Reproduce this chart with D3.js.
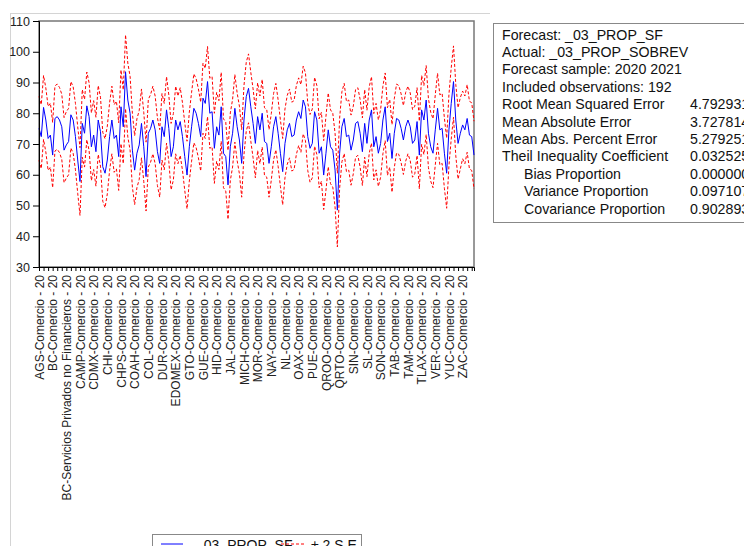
<!DOCTYPE html>
<html>
<head>
<meta charset="utf-8">
<title>Forecast _03_PROP_SF</title>
<script src="https://d3js.org/d3.v7.min.js"></script>
<style>
  body { margin: 0; background: #fff; }
  svg { display: block; font-family: "Liberation Sans", Arial, sans-serif; }
</style>
</head>
<body>
<svg width="744" height="546"></svg>
<script>
// categories (one label per 6 observations)
const categories = [
  "AGS-Comercio - 20", "BC-Comercio - 20", "BC-Servicios Privados no Financieros - 20",
  "CAMP-Comercio - 20", "CDMX-Comercio - 20", "CHI-Comercio - 20", "CHPS-Comercio - 20",
  "COAH-Comercio - 20", "COL-Comercio - 20", "DUR-Comercio - 20", "EDOMEX-Comercio - 20",
  "GTO-Comercio - 20", "GUE-Comercio - 20", "HID-Comercio - 20", "JAL-Comercio - 20",
  "MICH-Comercio - 20", "MOR-Comercio - 20", "NAY-Comercio - 20", "NL-Comercio - 20",
  "OAX-Comercio - 20", "PUE-Comercio - 20", "QROO-Comercio - 20", "QRTO-Comercio - 20",
  "SIN-Comercio - 20", "SL-Comercio - 20", "SON-Comercio - 20", "TAB-Comercio - 20",
  "TAM-Comercio - 20", "TLAX-Comercio - 20", "VER-Comercio - 20", "YUC-Comercio - 20",
  "ZAC-Comercio - 20"
];

// forecast _03_PROP_SF, 192 observations
const forecast = [
  75.1, 72.4, 81.9, 77.8, 71.8, 72.9, 66.4, 78.3, 78.9, 77.8, 75.6, 68.0,
  69.7, 70.8, 79.5, 77.8, 72.4, 64.8, 57.8, 76.7, 73.5, 82.4, 78.9, 69.1,
  72.9, 67.5, 77.8, 74.0, 62.6, 60.5, 64.8, 72.4, 77.8, 71.8, 72.9, 65.9,
  82.1, 75.6, 93.5, 84.3, 80.0, 68.0, 61.5, 67.0, 69.7, 76.7, 69.1, 59.4,
  73.5, 75.1, 77.8, 74.6, 67.5, 63.7, 75.6, 72.4, 81.1, 75.1, 65.9, 69.1,
  77.8, 74.6, 77.3, 72.4, 65.9, 59.9, 69.1, 75.6, 81.6, 80.0, 76.7, 72.4,
  84.9, 83.2, 90.3, 80.0, 80.5, 68.6, 75.6, 72.9, 82.1, 67.0, 65.9, 56.7,
  69.1, 73.5, 81.6, 75.6, 71.3, 63.7, 77.8, 85.4, 88.1, 82.1, 76.7, 70.2,
  78.9, 74.6, 80.0, 70.8, 70.2, 63.7, 69.1, 75.6, 78.9, 73.5, 67.0, 61.0,
  70.2, 74.6, 76.7, 72.4, 72.9, 77.8, 80.5, 78.3, 84.3, 82.1, 72.4, 68.6,
  70.2, 80.5, 77.8, 67.0, 69.1, 59.9, 67.0, 74.6, 69.1, 68.0, 61.5, 48.5,
  67.0, 75.6, 78.3, 72.4, 72.9, 68.0, 71.3, 76.7, 77.3, 73.5, 67.5, 76.7,
  70.2, 77.8, 81.1, 69.1, 72.4, 67.0, 70.2, 77.8, 82.1, 70.8, 73.5, 65.3,
  73.5, 78.3, 77.8, 75.1, 71.3, 75.6, 77.8, 75.6, 70.2, 71.3, 77.3, 66.4,
  81.1, 77.8, 84.3, 73.5, 69.1, 67.0, 74.6, 81.6, 74.6, 75.1, 67.0, 60.5,
  74.6, 83.2, 90.3, 77.8, 70.2, 73.5, 76.2, 74.6, 78.3, 72.9, 72.4, 66.4
];

// forecast standard error, one value per category
const seByCategory = [
  5.2, 5.3, 5.4, 5.5, 5.6, 5.5, 6.0, 5.6, 5.5, 5.4, 5.5, 5.6, 5.7, 5.6, 5.5, 5.6,
  5.5, 5.4, 5.6, 5.5, 5.6, 6.0, 5.7, 5.5, 5.4, 5.5, 5.6, 5.5, 5.6, 5.7, 5.8, 5.5
];

const yTicks = [30, 40, 50, 60, 70, 80, 90, 100, 110];

const statLabels = [
  "Forecast: _03_PROP_SF", "Actual: _03_PROP_SOBREV", "Forecast sample: 2020 2021",
  "Included observations: 192", "Root Mean Squared Error", "Mean Absolute Error",
  "Mean Abs. Percent Error", "Theil Inequality Coefficient", "Bias Proportion",
  "Variance Proportion", "Covariance Proportion"
];
const statValues = ["", "", "", "", "4.792931", "3.727814", "5.279251", "0.032525",
  "0.000000", "0.097107", "0.902893"];

const svg = d3.select("svg");
const margin = {top: 21, right: 270, bottom: 279, left: 39};
const width = 744, height = 546;

const per = 6;
const pts = forecast.map((v, i) => {
  const se = seByCategory[Math.floor(i / per)];
  return {i: i, f: v, hi: v + 2 * se, lo: v - 2 * se};
});

const x = d3.scaleLinear()
  .domain([0, forecast.length - 1])
  .range([margin.left, width - margin.right]);
const y = d3.scaleLinear()
  .domain([30, 110])
  .range([height - margin.bottom, margin.top]);

// outer frame (light gray)
svg.append("line").attr("x1", 10).attr("x2", 490).attr("y1", 13.5).attr("y2", 13.5)
  .attr("stroke", "#d4d4d4");
svg.append("line").attr("x1", 10.5).attr("x2", 10.5).attr("y1", 13).attr("y2", height)
  .attr("stroke", "#d4d4d4");

// plot border
svg.append("rect")
  .attr("x", x.range()[0]).attr("y", y.range()[1])
  .attr("width", x.range()[1] - x.range()[0])
  .attr("height", y.range()[0] - y.range()[1])
  .attr("fill", "none").attr("stroke", "#777").attr("stroke-width", 1.5);

// lines
const line = key => d3.line().x(d => x(d.i)).y(d => y(d[key]));
svg.append("path").datum(pts).attr("d", line("hi"))
  .attr("fill", "none").attr("stroke", "#ff0000").attr("stroke-width", 1)
  .attr("stroke-dasharray", "3,2");
svg.append("path").datum(pts).attr("d", line("lo"))
  .attr("fill", "none").attr("stroke", "#ff0000").attr("stroke-width", 1)
  .attr("stroke-dasharray", "3,2");
svg.append("path").datum(pts).attr("d", line("f"))
  .attr("fill", "none").attr("stroke", "#0000ff").attr("stroke-width", 1);

// y axis
const yAxis = svg.append("g")
  .attr("transform", `translate(${margin.left},0)`)
  .call(d3.axisLeft(y).tickValues(yTicks).tickSize(6).tickPadding(3));
yAxis.selectAll("text").attr("font-size", 12.5).attr("fill", "#222")
  .attr("font-family", "Liberation Sans, Arial, sans-serif");
yAxis.select(".domain").attr("stroke", "#000");

// x axis minor ticks every 2 obs
const xAxis = svg.append("g")
  .attr("transform", `translate(0,${height - margin.bottom})`)
  .call(d3.axisBottom(x).tickValues(d3.range(0, forecast.length, 2)).tickSize(4).tickFormat(""));
xAxis.select(".domain").attr("stroke", "#000");

// category labels
const xLab = svg.append("g")
  .attr("transform", `translate(0,${height - margin.bottom})`)
  .call(d3.axisBottom(x)
    .tickValues(categories.map((c, k) => k * per))
    .tickSize(0)
    .tickFormat((d) => categories[d / per]));
xLab.select(".domain").remove();
xLab.selectAll("text")
  .attr("font-size", 12).attr("fill", "#222")
  .attr("font-family", "Liberation Sans, Arial, sans-serif")
  .attr("text-anchor", "end")
  .attr("transform", "rotate(-90)")
  .attr("x", -8).attr("y", 0).attr("dy", "0.35em");

// stats box
const sb = svg.append("g").attr("transform", "translate(493,23)");
sb.append("rect").attr("x", 0.5).attr("y", 0.5).attr("width", 300).attr("height", 199)
  .attr("fill", "#fff").attr("stroke", "#888");
statLabels.forEach((t, k) => {
  const indent = k >= 8 ? 31 : 9;
  sb.append("text").attr("x", indent).attr("y", 16.5 + k * 17.4)
    .attr("font-size", 14.2).attr("fill", "#111").text(t);
  if (statValues[k]) {
    sb.append("text").attr("x", 197).attr("y", 16.5 + k * 17.4)
      .attr("font-size", 14.2).attr("fill", "#111").text(statValues[k]);
  }
});

// legend (cut by the bottom edge, as in the source)
const lg = svg.append("g").attr("transform", "translate(152,534)");
lg.append("rect").attr("x", 0.5).attr("y", 0.5).attr("width", 209).attr("height", 30)
  .attr("fill", "#fff").attr("stroke", "#888");
lg.append("line").attr("x1", 9).attr("x2", 31).attr("y1", 10).attr("y2", 10)
  .attr("stroke", "#0000ff");
lg.append("text").attr("x", 44).attr("y", 15.5).attr("font-size", 14).attr("fill", "#111")
  .text("_03_PROP_SF");
lg.append("line").attr("x1", 129).attr("x2", 153).attr("y1", 10).attr("y2", 10)
  .attr("stroke", "#ff0000").attr("stroke-dasharray", "3,2");
lg.append("text").attr("x", 159).attr("y", 15.5).attr("font-size", 14).attr("fill", "#111")
  .text("± 2 S.E.");
</script>
</body>
</html>
